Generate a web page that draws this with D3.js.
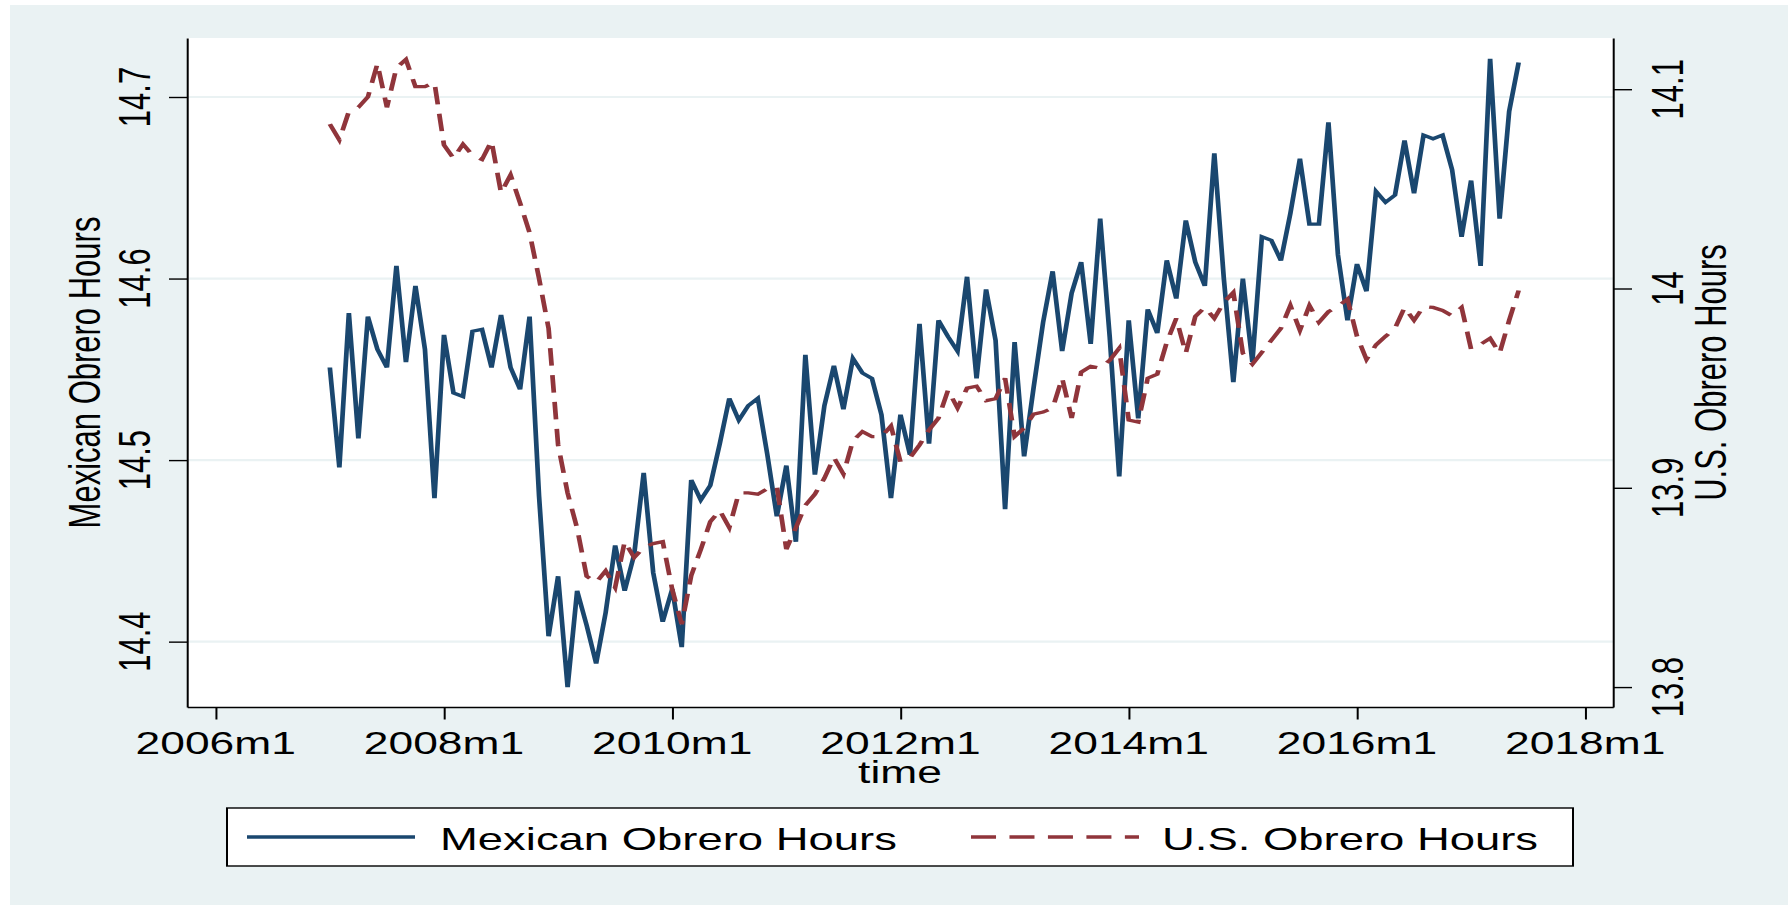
<!DOCTYPE html>
<html>
<head>
<meta charset="utf-8">
<script src="https://cdn.jsdelivr.net/npm/d3@7"></script>
<style>
  html, body { margin: 0; padding: 0; background: #fff; }
  svg { display: block; }
  text { font-family: "Liberation Sans", Arial, sans-serif; fill: #000; }
</style>
</head>
<body>
<svg width="1788" height="905"></svg>
<script>
const svg = d3.select("svg");

// DATA: monthly series, 2007m1 .. 2017m6
const startYear = 2007;
const mexicanHours = [
  14.551, 14.496, 14.581, 14.512, 14.579, 14.561, 14.551, 14.607, 14.554, 14.596, 14.561, 14.479,
  14.569, 14.537, 14.535, 14.571, 14.572, 14.551, 14.580, 14.551, 14.539, 14.579, 14.480, 14.403,
  14.436, 14.375, 14.428, 14.409, 14.388, 14.416, 14.453, 14.428, 14.448, 14.493, 14.438, 14.411,
  14.429, 14.397, 14.489, 14.478, 14.486, 14.509, 14.534, 14.522, 14.530, 14.534, 14.503, 14.469,
  14.497, 14.455, 14.558, 14.492, 14.530, 14.552, 14.528, 14.556, 14.548, 14.545, 14.525, 14.479,
  14.525, 14.503, 14.575, 14.509, 14.577, 14.568, 14.560, 14.601, 14.545, 14.594, 14.566, 14.473,
  14.565, 14.502, 14.540, 14.576, 14.604, 14.560, 14.592, 14.609, 14.564, 14.633, 14.568, 14.491,
  14.577, 14.523, 14.583, 14.570, 14.610, 14.589, 14.632, 14.609, 14.596, 14.669, 14.600, 14.543,
  14.600, 14.554, 14.623, 14.621, 14.610, 14.636, 14.666, 14.630, 14.630, 14.686, 14.613, 14.577,
  14.608, 14.593, 14.648, 14.642, 14.646, 14.676, 14.647, 14.679, 14.677, 14.679, 14.660, 14.623,
  14.654, 14.607, 14.721, 14.633, 14.692, 14.719
];
const usHours = [
  14.0825, 14.0746, 14.0888, 14.0909, 14.0961, 14.1128, 14.0909, 14.1107, 14.1149, 14.1013, 14.1013, 14.1034,
  14.0720, 14.0653, 14.0724, 14.0668, 14.0647, 14.0740, 14.0480, 14.0570, 14.0430, 14.0280, 14.0050, 13.9800,
  13.9215, 13.8974, 13.8797, 13.8556, 13.8525, 13.8583, 13.8500, 13.8730, 13.8650, 13.8700, 13.8720, 13.8730,
  13.8490, 13.8315, 13.8560, 13.8690, 13.8830, 13.8886, 13.8800, 13.8974, 13.8974, 13.8968, 13.8995, 13.9006,
  13.8692, 13.8800, 13.8912, 13.8968, 13.9048, 13.9152, 13.9069, 13.9236, 13.9282, 13.9257, 13.9257, 13.9310,
  13.9130, 13.9150, 13.9215, 13.9290, 13.9350, 13.9490, 13.9400, 13.9500, 13.9510, 13.9437, 13.9447, 13.9550,
  13.9257, 13.9300, 13.9370, 13.9380, 13.9400, 13.9550, 13.9350, 13.9580, 13.9610, 13.9600, 13.9640, 13.9700,
  13.9340, 13.9330, 13.9550, 13.9570, 13.9730, 13.9850, 13.9675, 13.9860, 13.9905, 13.9850, 13.9930, 13.9980,
  13.9675, 13.9620, 13.9680, 13.9740, 13.9800, 13.9915, 13.9790, 13.9915, 13.9830, 13.9884, 13.9910, 13.9947,
  13.9760, 13.9644, 13.9717, 13.9760, 13.9800, 13.9905, 13.9840, 13.9910, 13.9905, 13.9890, 13.9863, 13.9905,
  13.9696, 13.9720, 13.9750, 13.9675, 13.9840, 13.9990
];
const seriesNames = ["Mexican Obrero Hours", "U.S. Obrero Hours"];
const xTickLabels = ["2006m1", "2008m1", "2010m1", "2012m1", "2014m1", "2016m1", "2018m1"];
const yLeftTicks = [14.4, 14.5, 14.6, 14.7];
const yRightTicks = [13.8, 13.9, 14, 14.1];

// CONSTANTS
const SX = 1.43; // the whole picture is stretched sideways
const bgColor = "#EAF2F3";
const navy = "#1A476F";
const maroon = "#90353B";
const plot = { left: 187, right: 1613, top: 38, bottom: 707 };
const fontSize = 31;

// months counted from 2006m1 (Stata %tm style)
const monthOf = i => (startYear - 2006) * 12 + i;
const tickMonth = label => {
  const [y, m] = label.split("m");
  return (+y - 2006) * 12 + (+m - 1);
};

// SCALES (x in unstretched units)
const xScale = d3.scaleLinear().domain([-3.02, 146.92]).range([plot.left / SX, plot.right / SX]);
const yLeft = d3.scaleLinear().domain([14.364, 14.7325]).range([plot.bottom, plot.top]);
const yRight = d3.scaleLinear().domain([13.790, 14.1257]).range([plot.bottom, plot.top]);

const g = svg.append("g").attr("transform", `scale(${SX},1)`);

// graph region + plot region
g.append("rect")
  .attr("x", 10 / SX).attr("y", 5)
  .attr("width", (1788 - 10) / SX).attr("height", 900)
  .attr("fill", bgColor);
g.append("rect")
  .attr("x", plot.left / SX).attr("y", plot.top)
  .attr("width", (plot.right - plot.left) / SX).attr("height", plot.bottom - plot.top)
  .attr("fill", "#fff");

// grid lines
g.selectAll("line.grid").data(yLeftTicks).enter()
  .append("line").attr("class", "grid")
  .attr("x1", plot.left / SX).attr("x2", plot.right / SX)
  .attr("y1", d => yLeft(d)).attr("y2", d => yLeft(d))
  .attr("stroke", bgColor).attr("stroke-width", 2.2);

// series
const mexLine = d3.line().x((d, i) => xScale(monthOf(i))).y(d => yLeft(d));
const usLine = d3.line().x((d, i) => xScale(monthOf(i))).y(d => yRight(d));

g.append("path").datum(mexicanHours)
  .attr("d", mexLine)
  .attr("fill", "none").attr("stroke", navy).attr("stroke-width", 3.3);
g.append("path").datum(usHours)
  .attr("d", usLine)
  .attr("fill", "none").attr("stroke", maroon).attr("stroke-width", 3.3)
  .attr("stroke-dasharray", "17.5,9.4");

// axes
function styleAxis(sel) {
  sel.selectAll("text").remove();
  sel.selectAll("path, line").attr("stroke", "#000").attr("stroke-width", 1.4);
}
g.append("g")
  .attr("transform", `translate(${plot.left / SX},0)`)
  .call(d3.axisLeft(yLeft).tickValues(yLeftTicks).tickSize(18 / SX).tickSizeOuter(0))
  .call(styleAxis);
g.append("g")
  .attr("transform", `translate(${plot.right / SX},0)`)
  .call(d3.axisRight(yRight).tickValues(yRightTicks).tickSize(19 / SX).tickSizeOuter(0))
  .call(styleAxis);
g.append("g")
  .attr("transform", `translate(0,${plot.bottom})`)
  .call(d3.axisBottom(xScale).tickValues(xTickLabels.map(tickMonth)).tickSize(12.5).tickSizeOuter(0))
  .call(styleAxis);

// tick labels
g.selectAll("text.xlab").data(xTickLabels).enter()
  .append("text").attr("class", "xlab")
  .attr("x", d => xScale(tickMonth(d))).attr("y", 754)
  .attr("text-anchor", "middle").attr("font-size", fontSize)
  .text(d => d);
g.selectAll("text.ylab").data(yLeftTicks).enter()
  .append("text").attr("class", "ylab")
  .attr("transform", d => `translate(${150 / SX},${yLeft(d)}) rotate(-90)`)
  .attr("text-anchor", "middle").attr("font-size", fontSize)
  .text(d => d3.format("")(d));
g.selectAll("text.yrlab").data(yRightTicks).enter()
  .append("text").attr("class", "yrlab")
  .attr("transform", d => `translate(${1683 / SX},${yRight(d)}) rotate(-90)`)
  .attr("text-anchor", "middle").attr("font-size", fontSize)
  .text(d => d3.format("")(d));

// axis titles
const midY = (plot.top + plot.bottom) / 2;
g.append("text")
  .attr("transform", `translate(${100 / SX},${midY}) rotate(-90)`)
  .attr("text-anchor", "middle").attr("font-size", fontSize)
  .text(seriesNames[0]);
g.append("text")
  .attr("transform", `translate(${1726 / SX},${midY}) rotate(-90)`)
  .attr("text-anchor", "middle").attr("font-size", fontSize)
  .text(seriesNames[1]);
g.append("text")
  .attr("x", (plot.left + plot.right) / 2 / SX).attr("y", 783)
  .attr("text-anchor", "middle").attr("font-size", fontSize)
  .text("time");

// legend
const legend = g.append("g");
legend.append("rect")
  .attr("x", 227 / SX).attr("y", 808)
  .attr("width", (1573 - 227) / SX).attr("height", 58)
  .attr("fill", "#fff").attr("stroke", "#000").attr("stroke-width", 1.4);

const legendItems = [
  { name: seriesNames[0], color: navy, dash: null, x0: 247, x1: 415, tx: 440 },
  { name: seriesNames[1], color: maroon, dash: "17.5,9.4", x0: 971, x1: 1139, tx: 1162 }
];
legendItems.forEach(it => {
  legend.append("line")
    .attr("x1", it.x0 / SX).attr("x2", it.x1 / SX)
    .attr("y1", 837).attr("y2", 837)
    .attr("stroke", it.color).attr("stroke-width", 3.5)
    .attr("stroke-dasharray", it.dash);
  legend.append("text")
    .attr("transform", `translate(${it.tx / SX},849.5) scale(1.025,1)`)
    .attr("font-size", fontSize)
    .text(it.name);
});
</script>
</body>
</html>
